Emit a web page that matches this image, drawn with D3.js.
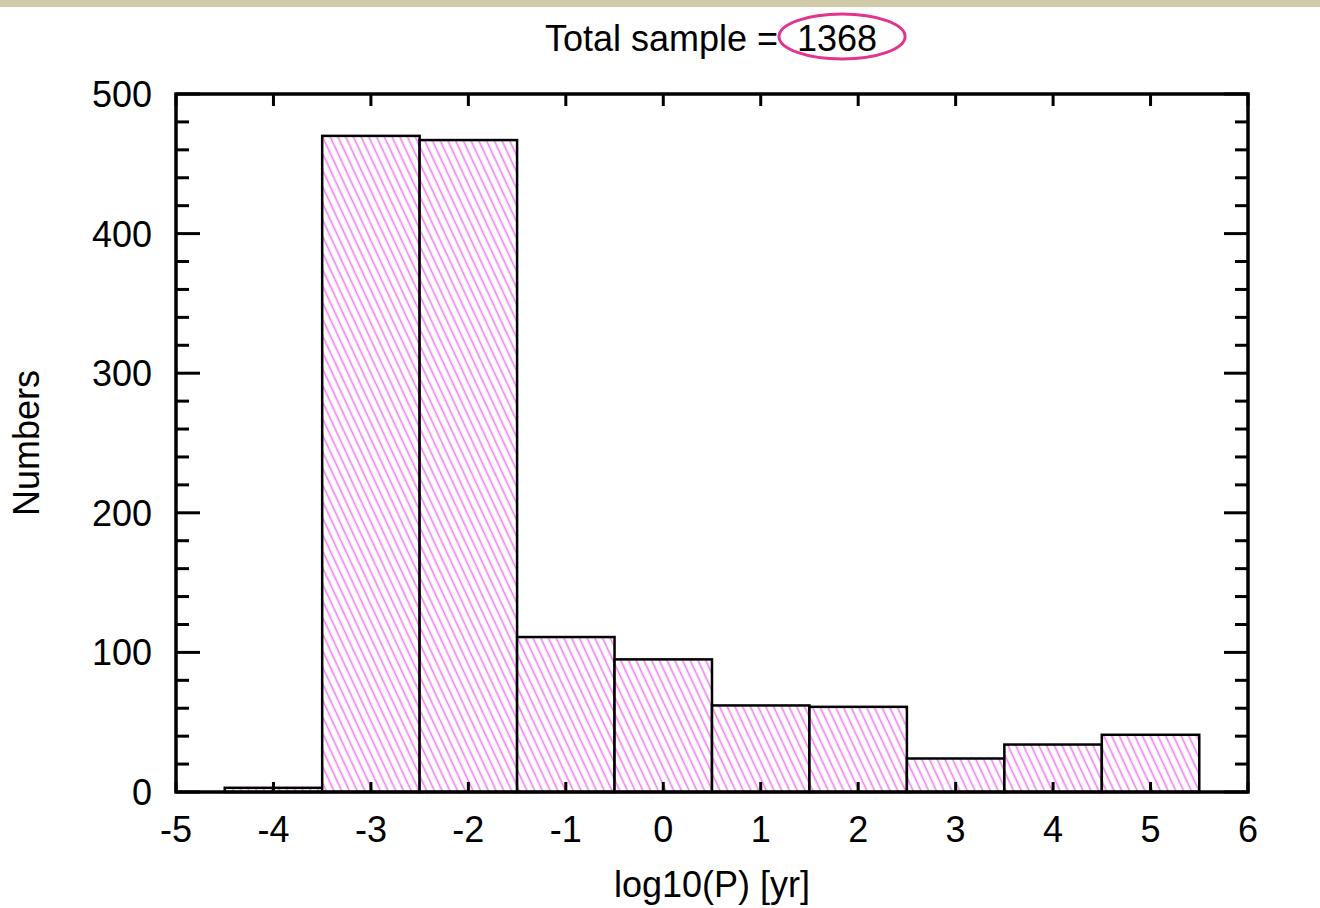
<!DOCTYPE html>
<html lang="en">
<head>
    <meta charset="UTF-8">
    <title>Period histogram</title>
    <script src="https://cdnjs.cloudflare.com/ajax/libs/d3/7.8.5/d3.min.js"></script>
    <style>
        * { margin: 0; padding: 0; }
        body { background: #fff; width: 1320px; height: 908px; overflow: hidden; }
        svg text { font-family: 'Liberation Sans', Arial, sans-serif; fill: #000; }
    </style>
</head>
<body>
    <svg id="chart" width="1320" height="908"></svg>
    <script>
        // Histogram of log10(P), bins of width 1
        const binCenters = [-4, -3, -2, -1, 0, 1, 2, 3, 4, 5];
        const counts = [3, 470, 467, 111, 95, 62, 61, 24, 34, 41];
        const binWidth = 1;
        const xTicks = [-5, -4, -3, -2, -1, 0, 1, 2, 3, 4, 5, 6];
        const yTicks = [0, 100, 200, 300, 400, 500];
        const totalSample = 1368;

        const svg = d3.select('#chart');
        const margin = {top: 94, right: 72, bottom: 116, left: 176};
        const W = 1320, H = 908;
        const fs = 36;

        const x = d3.scaleLinear().domain([-5, 6]).range([margin.left, W - margin.right]);
        const y = d3.scaleLinear().domain([0, 500]).range([H - margin.bottom, margin.top]);

        // beige strip at the top edge
        svg.append('rect').attr('x', 0).attr('y', 0).attr('width', W).attr('height', 7)
            .attr('fill', '#cfcba8');

        // hatch pattern
        const defs = svg.append('defs');
        const pat = defs.append('pattern')
            .attr('id', 'hatch')
            .attr('patternUnits', 'userSpaceOnUse')
            .attr('width', 7).attr('height', 7)
            .attr('patternTransform', 'rotate(-25)');
        pat.append('rect').attr('width', 7).attr('height', 7).attr('fill', '#fff');
        pat.append('line').attr('x1', 3.5).attr('y1', 0).attr('x2', 3.5).attr('y2', 7)
            .attr('stroke', '#f07cf0').attr('stroke-width', 1.6);

        // bars
        svg.selectAll('rect.bar')
            .data(binCenters)
            .enter()
            .append('rect')
            .attr('class', 'bar')
            .attr('x', d => x(d - binWidth / 2))
            .attr('width', d => x(d + binWidth / 2) - x(d - binWidth / 2))
            .attr('y', (d, i) => y(counts[i]))
            .attr('height', (d, i) => y(0) - y(counts[i]))
            .attr('fill', 'url(#hatch)')
            .attr('stroke', '#000')
            .attr('stroke-width', 2.5);

        // ticks, all pointing inward
        const yMinor = d3.range(0, 501, 20);
        const tickG = svg.append('g').attr('stroke', '#000').attr('stroke-width', 3);
        yMinor.forEach(v => {
            const len = v % 100 === 0 ? 24 : 13;
            tickG.append('line').attr('x1', x(-5)).attr('x2', x(-5) + len)
                .attr('y1', y(v)).attr('y2', y(v));
            tickG.append('line').attr('x1', x(6)).attr('x2', x(6) - len)
                .attr('y1', y(v)).attr('y2', y(v));
        });
        xTicks.forEach(v => {
            tickG.append('line').attr('x1', x(v)).attr('x2', x(v))
                .attr('y1', y(0)).attr('y2', y(0) - 10);
            tickG.append('line').attr('x1', x(v)).attr('x2', x(v))
                .attr('y1', y(500)).attr('y2', y(500) + 12);
        });

        // frame
        svg.append('rect')
            .attr('x', x(-5)).attr('y', y(500))
            .attr('width', x(6) - x(-5)).attr('height', y(0) - y(500))
            .attr('fill', 'none').attr('stroke', '#000').attr('stroke-width', 3.5);

        // tick labels
        svg.append('g').selectAll('text')
            .data(xTicks)
            .enter()
            .append('text')
            .attr('x', d => x(d))
            .attr('y', y(0) + 50)
            .attr('text-anchor', 'middle')
            .attr('font-size', fs)
            .text(d => d);

        svg.append('g').selectAll('text')
            .data(yTicks)
            .enter()
            .append('text')
            .attr('x', x(-5) - 24)
            .attr('y', d => y(d) + 13)
            .attr('text-anchor', 'end')
            .attr('font-size', fs)
            .text(d => d);

        // axis titles
        svg.append('text')
            .attr('x', (x(-5) + x(6)) / 2)
            .attr('y', 897)
            .attr('text-anchor', 'middle')
            .attr('font-size', fs)
            .text('log10(P) [yr]');

        svg.append('text')
            .attr('transform', `translate(39,${(y(0) + y(500)) / 2}) rotate(-90)`)
            .attr('text-anchor', 'middle')
            .attr('font-size', fs)
            .text('Numbers');

        // title with circled total
        svg.append('text')
            .attr('x', 778).attr('y', 51)
            .attr('text-anchor', 'end')
            .attr('font-size', fs)
            .text('Total sample =');
        const titleNum = svg.append('text')
            .attr('x', 797).attr('y', 51)
            .attr('text-anchor', 'start')
            .attr('font-size', fs)
            .text(totalSample);
        const bb = titleNum.node().getBBox();
        svg.append('ellipse')
            .attr('cx', bb.x + bb.width / 2 + 5)
            .attr('cy', bb.y + bb.height / 2 - 2)
            .attr('rx', bb.width / 2 + 23)
            .attr('ry', bb.height / 2 + 2)
            .attr('fill', 'none')
            .attr('stroke', '#e2358f')
            .attr('stroke-width', 3);
    </script>
</body>
</html>
